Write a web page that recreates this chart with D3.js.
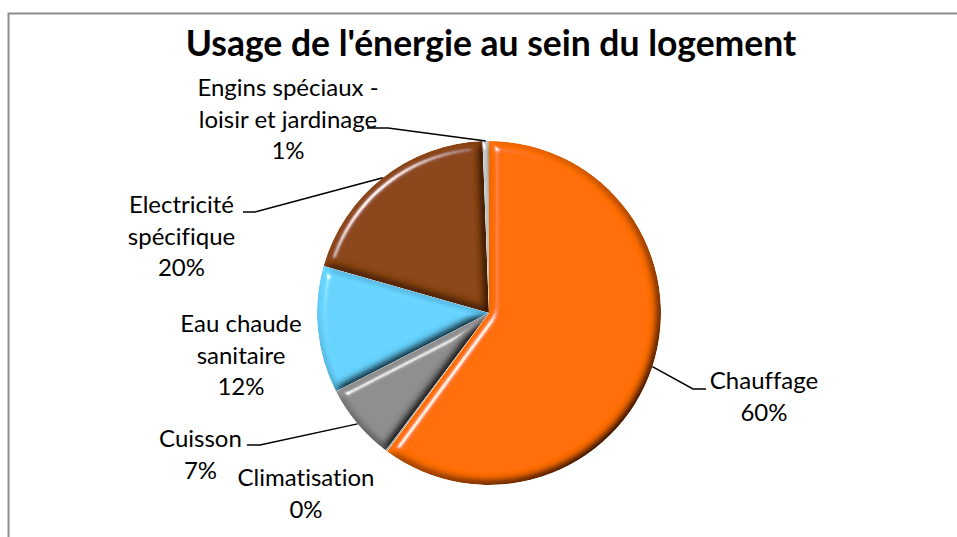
<!DOCTYPE html>
<html><head><meta charset="utf-8">
<script src="https://cdn.jsdelivr.net/npm/d3@7"></script>
<style>body{margin:0;background:#fff}svg{display:block}text{font-variant-ligatures:none;font-feature-settings:"liga" 0}</style>
</head><body><svg id="c" width="957" height="537"></svg>
<script>
// ---- data ----
const title = "Usage de l'énergie au sein du logement";
const categories = ["Chauffage", "Climatisation", "Cuisson", "Eau chaude sanitaire", "Electricité spécifique", "Engins spéciaux - loisir et jardinage"];
const values = [60.1, 0.15, 7.2, 11.95, 20.0, 0.6];
const labelLines = [["Chauffage"], ["Climatisation"], ["Cuisson"], ["Eau chaude", "sanitaire"], ["Electricité", "spécifique"], ["Engins spéciaux -", "loisir et jardinage"]];

// ---- styles / layout ----
const colors = ["#FF6E00", "#A5A5A5", "#8E8E8E", "#66D3FF", "#8B4513", "#C4C4C4"];
const labelLayout = [
  {x: 764, y: 389, elbow: [693, 389], end: [706, 389]},
  {x: 306, y: 486},
  {x: 200.5, y: 447, elbow: [260, 445], end: [247, 445]},
  {x: 241, y: 332},
  {x: 181.5, y: 213, elbow: [255, 212], end: [243, 212]},
  {x: 288, y: 96, elbow: [388, 128], end: [367, 128]}
];
const cx = 489, cy = 313, R = 172, lineH = 31.5;

const svg = d3.select("#c");
const defs = svg.append("defs");
const f = defs.append("filter").attr("id", "bevel").attr("x", "-10%").attr("y", "-10%").attr("width", "120%").attr("height", "120%");
f.append("feGaussianBlur").attr("in", "SourceAlpha").attr("stdDeviation", 5).attr("result", "blur");
const dl = f.append("feDiffuseLighting").attr("in", "blur").attr("surfaceScale", 9).attr("diffuseConstant", 1.15).attr("lighting-color", "#fff").attr("result", "diff");
dl.append("feDistantLight").attr("azimuth", 225).attr("elevation", 60);
f.append("feComposite").attr("in", "SourceGraphic").attr("in2", "diff").attr("operator", "arithmetic").attr("k1", 1).attr("k2", 0).attr("k3", 0).attr("k4", 0).attr("result", "lit");
const sl = f.append("feSpecularLighting").attr("in", "blur").attr("surfaceScale", 9).attr("specularConstant", 0.9).attr("specularExponent", 50).attr("lighting-color", "#fff").attr("result", "spec");
sl.append("feDistantLight").attr("azimuth", 225).attr("elevation", 35);
f.append("feComposite").attr("in", "spec").attr("in2", "SourceAlpha").attr("operator", "in").attr("result", "specIn");
f.append("feComposite").attr("in", "lit").attr("in2", "specIn").attr("operator", "arithmetic").attr("k1", 0).attr("k2", 1).attr("k3", 1).attr("k4", 0).attr("result", "out");
f.append("feComposite").attr("in", "out").attr("in2", "SourceAlpha").attr("operator", "in");

// border
svg.append("rect").attr("x", 8.5).attr("y", 13.5).attr("width", 980).attr("height", 560)
  .attr("fill", "#fff").attr("stroke", "#8C8C8C").attr("stroke-width", 2);

// title
svg.append("text").attr("x", 491).attr("y", 56).attr("text-anchor", "middle")
  .attr("font-family", "Lato").attr("font-weight", "bold").attr("font-size", 35.5).attr("fill", "#000").text(title);

const total = d3.sum(values);
const pie = d3.pie().sort(null).value(d => d)(values);
const arc = d3.arc().innerRadius(0).outerRadius(R);
const g = svg.append("g").attr("transform", `translate(${cx},${cy})`);
g.selectAll("path").data(pie).join("path")
  .attr("d", arc).attr("fill", (d, i) => colors[i]).attr("filter", "url(#bevel)");

const pct = d3.format(".0%");
// leader lines
pie.forEach((d, i) => {
  const L = labelLayout[i];
  if (!L.elbow) return;
  const a = (d.startAngle + d.endAngle) / 2;
  const p = [cx + R * Math.sin(a), cy - R * Math.cos(a)];
  svg.append("polyline").attr("points", [p, L.elbow, L.end].map(q => q.join(",")).join(" "))
    .attr("fill", "none").attr("stroke", "#000").attr("stroke-width", 1.5);
});
// labels
pie.forEach((d, i) => {
  const L = labelLayout[i];
  const lines = labelLines[i].concat([pct(d.value / total)]);
  const t = svg.append("text").attr("text-anchor", "middle").attr("font-family", "Lato").attr("font-size", 24).attr("fill", "#000");
  lines.forEach((s, k) => t.append("tspan").attr("x", L.x).attr("y", L.y + k * lineH).text(s));
});
</script></body></html>
